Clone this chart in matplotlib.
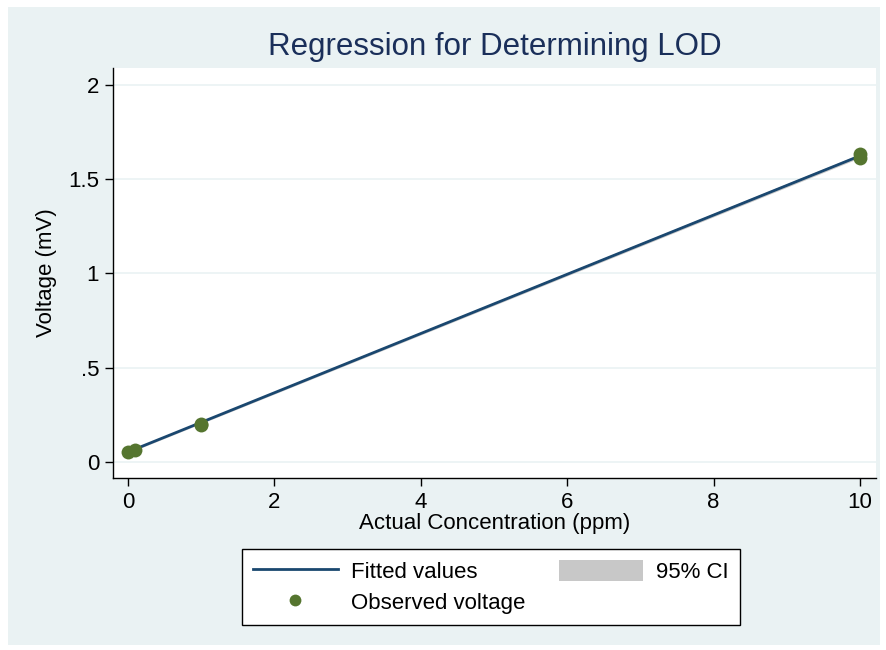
import matplotlib.pyplot as plt
from matplotlib.patches import Rectangle, Patch
from matplotlib.lines import Line2D

plt.rcParams['font.family'] = ['Liberation Sans', 'DejaVu Sans']

# observed points
conc = [0, 0.1, 1, 1, 10, 10]
volt = [0.055, 0.062, 0.195, 0.200, 1.615, 1.635]

# fitted line and its (very narrow) 95% CI band
fit_x = [0, 10]
fit_y = [0.053, 1.624]
ci_lo = [0.047, 1.614]
ci_hi = [0.059, 1.634]

yticks = [0, 0.5, 1, 1.5, 2]
ylabels = ['0', '.5', '1', '1.5', '2']
xticks = [0, 2, 4, 6, 8, 10]

navy = '#1a476f'
green = '#55752f'
bg = '#eaf2f3'
fs = 16

fig = plt.figure(figsize=(8.86, 6.5), dpi=100)
fig.patch.set_facecolor('white')
fig.patches.append(Rectangle((8 / 886, 1 - 645 / 650), 872 / 886, 638 / 650,
                             transform=fig.transFigure, facecolor=bg,
                             edgecolor='none', zorder=-10))

ax = fig.add_axes([113 / 886, 1 - 478 / 650, 763 / 886, 410 / 650])
ax.set_facecolor('white')

ax.fill_between(fit_x, ci_lo, ci_hi, color='#c8c8c8', lw=0, zorder=2)
ax.plot(fit_x, fit_y, color=navy, lw=2, zorder=3)
ax.scatter(conc, volt, s=100, color=green, zorder=4, lw=0)

ax.set_xlim(-0.205, 10.22)
ax.set_ylim(-0.085, 2.09)
ax.set_xticks(xticks)
ax.set_yticks(yticks)
ax.set_yticklabels(ylabels)
ax.grid(axis='y', color=bg, lw=1.2)
ax.set_axisbelow(True)
ax.tick_params(labelsize=fs, length=6, width=1, color='black', pad=4)

for s in ['top', 'right']:
    ax.spines[s].set_visible(False)
for s in ['left', 'bottom']:
    ax.spines[s].set_linewidth(1)

ax.set_xlabel('Actual Concentration (ppm)', fontsize=fs, labelpad=0)
ax.set_ylabel('Voltage (mV)', fontsize=fs, labelpad=8)
fig.text(495 / 886, 1 - 47 / 650, 'Regression for Determining LOD',
         ha='center', va='center', fontsize=22.5, color='#1a2f5a')

handles = [Line2D([], [], color=navy, lw=2),
           Line2D([], [], marker='o', ls='none', color=green, markersize=8.5, mew=0),
           Patch(facecolor='#c8c8c8', edgecolor='none')]
labels = ['Fitted values', 'Observed voltage', '95% CI']
leg = fig.legend(handles, labels, ncol=2, loc='center',
                 bbox_to_anchor=(491 / 886, 1 - 587 / 650), fontsize=fs,
                 frameon=True, fancybox=False, edgecolor='black', framealpha=1,
                 handlelength=3.8, handleheight=1.05, columnspacing=1.5,
                 handletextpad=0.6, borderpad=0.5, labelspacing=0.35,
                 borderaxespad=0)
leg.get_frame().set_linewidth(1)
leg.get_frame().set_facecolor('white')

fig.savefig('out.png', dpi=100, facecolor=fig.get_facecolor())
